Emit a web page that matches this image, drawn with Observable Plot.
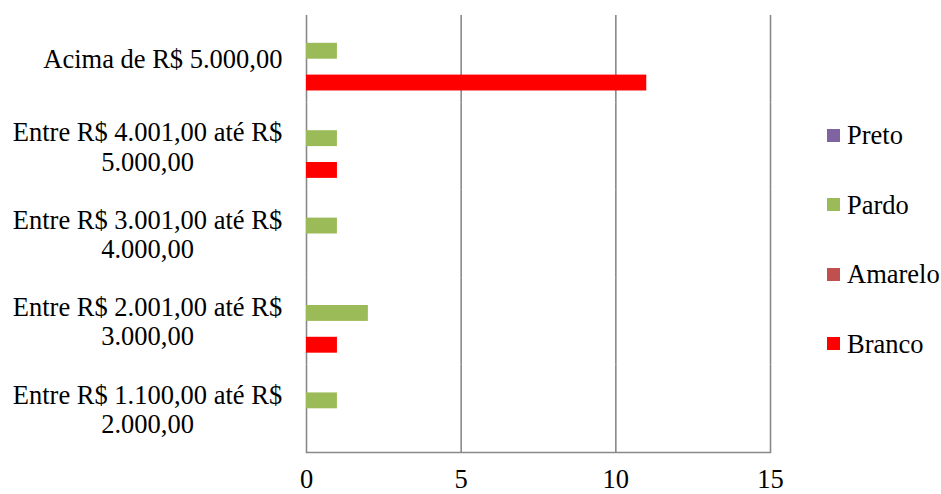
<!DOCTYPE html>
<html>
<head>
<meta charset="utf-8">
<script src="https://cdn.jsdelivr.net/npm/d3@7"></script>
<script src="https://cdn.jsdelivr.net/npm/@observablehq/plot@0.6"></script>
<style>
  html, body { margin: 0; padding: 0; background: #fff; }
  #wrap { position: relative; width: 941px; height: 494px; overflow: hidden; }
  #chart { position: absolute; left: 0; top: 0; }
  #legend { position: absolute; left: 827px; top: 120px; font-family: 'Liberation Serif', 'Times New Roman', serif; font-size: 26.5px; color: #000; }
  .row { display: flex; align-items: center; height: 30px; line-height: 30px; margin-bottom: 39.67px; white-space: nowrap; }
  .sw { width: 13px; height: 13px; margin-right: 7px; flex: none; }
</style>
</head>
<body>
<div id="wrap">
  <div id="chart"></div>
  <div id="legend"></div>
</div>
<script>
// Categories, top to bottom
const categories = [
  "Acima de R$ 5.000,00",
  "Entre R$ 4.001,00 até R$\n5.000,00",
  "Entre R$ 3.001,00 até R$\n4.000,00",
  "Entre R$ 2.001,00 até R$\n3.000,00",
  "Entre R$ 1.100,00 até R$\n2.000,00"
];
// Series (order within each group, top to bottom)
const series = ["Preto", "Pardo", "Amarelo", "Branco"];
const colors = ["#8064A2", "#9BBB59", "#C0504D", "#FF0000"];

// Values per category (same order as categories)
const preto   = [0, 0, 0, 0, 0];
const pardo   = [1, 1, 1, 2, 1];
const amarelo = [0, 0, 0, 0, 0];
const branco  = [11, 1, 0, 1, 0];

const xTicks = [0, 5, 10, 15];

const valuesBySeries = [preto, pardo, amarelo, branco];
const data = categories.flatMap((c, i) =>
  series.map((s, j) => ({ category: c, series: s, value: valuesBySeries[j][i] }))
);

const gridColor = "#898989";

const chart = Plot.plot({
  width: 941,
  height: 494,
  marginLeft: 306,
  marginRight: 171,
  marginTop: 15,
  marginBottom: 42,
  style: {
    fontFamily: "'Liberation Serif', 'Times New Roman', serif",
    fontSize: "26.5px",
    color: "#000",
    background: "#fff"
  },
  x: { domain: [0, 15], ticks: xTicks, axis: null },
  y: { domain: series, axis: null, paddingInner: 0, paddingOuter: 0.75, round: false },
  fy: { domain: categories, padding: 0, axis: null, round: false },
  color: { domain: series, range: colors },
  marks: [
    Plot.gridX(xTicks, { stroke: gridColor, strokeOpacity: 1, strokeWidth: 1.6 }),
    Plot.frame({ anchor: "bottom", stroke: gridColor, strokeWidth: 1.6, facetAnchor: "bottom" }),
    Plot.barX(data.filter(d => d.value > 0), {
      x: "value", y: "series", fy: "category", fill: "series"
    }),
    Plot.axisX(xTicks, { anchor: "bottom", tickSize: 0, tickPadding: 17, fill: "#000", label: null }),
    Plot.axisFy({
      anchor: "left", tickSize: 0, tickPadding: 24, textAnchor: "end", fill: "#000", label: null,
      tickFormat: d => d.includes("\n") ? "" : d
    }),
    Plot.axisFy({
      anchor: "left", tickSize: 0, tickPadding: 159, textAnchor: "middle", fill: "#000", label: null,
      lineHeight: 1.1,
      tickFormat: d => d.includes("\n") ? d : ""
    })
  ]
});
document.getElementById("chart").appendChild(chart);

const legend = document.getElementById("legend");
series.forEach((s, i) => {
  const row = document.createElement("div");
  row.className = "row";
  const sw = document.createElement("span");
  sw.className = "sw";
  sw.style.background = colors[i];
  const label = document.createElement("span");
  label.textContent = s;
  row.appendChild(sw);
  row.appendChild(label);
  legend.appendChild(row);
});
</script>
</body>
</html>
